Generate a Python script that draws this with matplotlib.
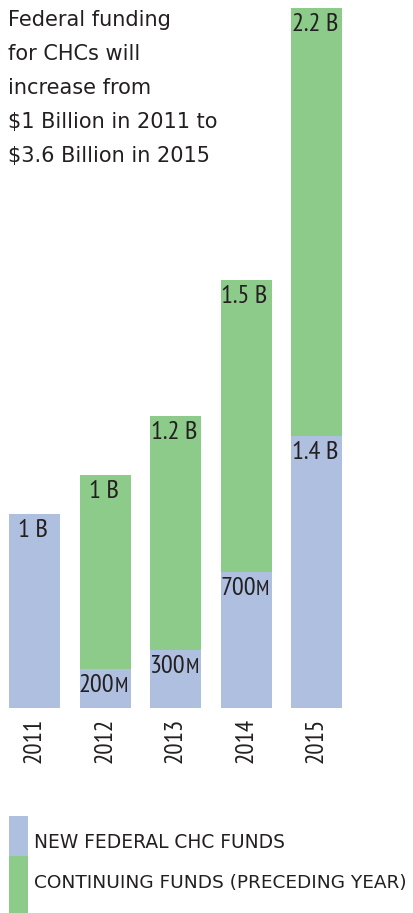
import matplotlib
matplotlib.use("Agg")
import matplotlib.pyplot as plt
from matplotlib.patches import Rectangle

years = ["2011", "2012", "2013", "2014", "2015"]
new_funds = [1.0, 0.2, 0.3, 0.7, 1.4]          # billions
continuing = [0.0, 1.0, 1.2, 1.5, 2.2]         # billions
new_labels = [("1 B", ""), ("200", "M"), ("300", "M"), ("700", "M"), ("1.4 B", "")]
cont_labels = [None, ("1 B", ""), ("1.2 B", ""), ("1.5 B", ""), ("2.2 B", "")]
title_lines = ["Federal funding", "for CHCs will", "increase from",
               "$1 Billion in 2011 to", "$3.6 Billion in 2015"]
legend_labels = ["NEW FEDERAL CHC FUNDS", "CONTINUING FUNDS (PRECEDING YEAR)"]

BLUE = "#aebfe0"
GREEN = "#8dcb8a"
TXT = "#231f20"
FONT = ["DejaVu Sans"]
NARROW = ["PT Sans Narrow", "Fira Sans Condensed", "DejaVu Sans"]

W, H = 413, 913
fig = plt.figure(figsize=(W / 100, H / 100), dpi=100)
base_px = 708
top_px = 8
ax = fig.add_axes([0, (H - base_px) / H, 1, (base_px - top_px) / H])
ax.set_ylim(0, 3.6)
step = 70.5
c0 = 34.5
ax.set_xlim(-c0 / step, (W - c0) / step)
ax.axis("off")
PX = 3.6 / (base_px - top_px)   # data units per pixel (y)

x = list(range(len(years)))
bw = 51 / step
ax.bar(x, new_funds, width=bw, color=BLUE, linewidth=0)
ax.bar(x, continuing, width=bw, bottom=new_funds, color=GREEN, linewidth=0)

fig.canvas.draw()
renderer = fig.canvas.get_renderer()
FS = 19
FS_SMALL = 15

def value_label(xc, ytop, parts):
    main, small = parts
    yb = ytop - 23 * PX
    t1 = ax.text(0, yb, main, ha="left", va="baseline", fontsize=FS, color=TXT, family=NARROW)
    w1 = t1.get_window_extent(renderer).width
    w2 = 0
    t2 = None
    if small:
        t2 = ax.text(0, yb, small, ha="left", va="baseline", fontsize=FS_SMALL, color=TXT,
                     family=NARROW)
        w2 = t2.get_window_extent(renderer).width
    total = (w1 + w2) / step   # pixels -> x data units
    x0 = xc - 1.5 / step - total / 2
    t1.set_x(x0)
    if t2 is not None:
        t2.set_x(x0 + w1 / step)

for i in x:
    value_label(i, new_funds[i], new_labels[i])
    if cont_labels[i]:
        value_label(i, new_funds[i] + continuing[i], cont_labels[i])

# year labels
for i, y in enumerate(years):
    ax.text(i, -10 * PX, y, rotation=90, ha="center", va="top", fontsize=18,
            color=TXT, family=NARROW)

# title text
for k, line in enumerate(title_lines):
    fig.text(8 / W, 1 - (10 + 34 * k) / H, line, ha="left", va="top", fontsize=15,
             color=TXT, family=FONT)

# legend
fig.patches.append(Rectangle((9 / W, 1 - 856 / H), 19 / W, 40 / H, transform=fig.transFigure,
                             facecolor=BLUE, edgecolor="none"))
fig.patches.append(Rectangle((9 / W, 1 - 913 / H), 19 / W, 57 / H, transform=fig.transFigure,
                             facecolor=GREEN, edgecolor="none"))
fig.text(34 / W, 1 - 842 / H, legend_labels[0], ha="left", va="center", fontsize=13.4,
         color=TXT, family=FONT)
fig.text(34 / W, 1 - 883 / H, legend_labels[1], ha="left", va="center", fontsize=13.3,
         color=TXT, family=FONT)

fig.savefig("out.png", dpi=100, facecolor="white")
